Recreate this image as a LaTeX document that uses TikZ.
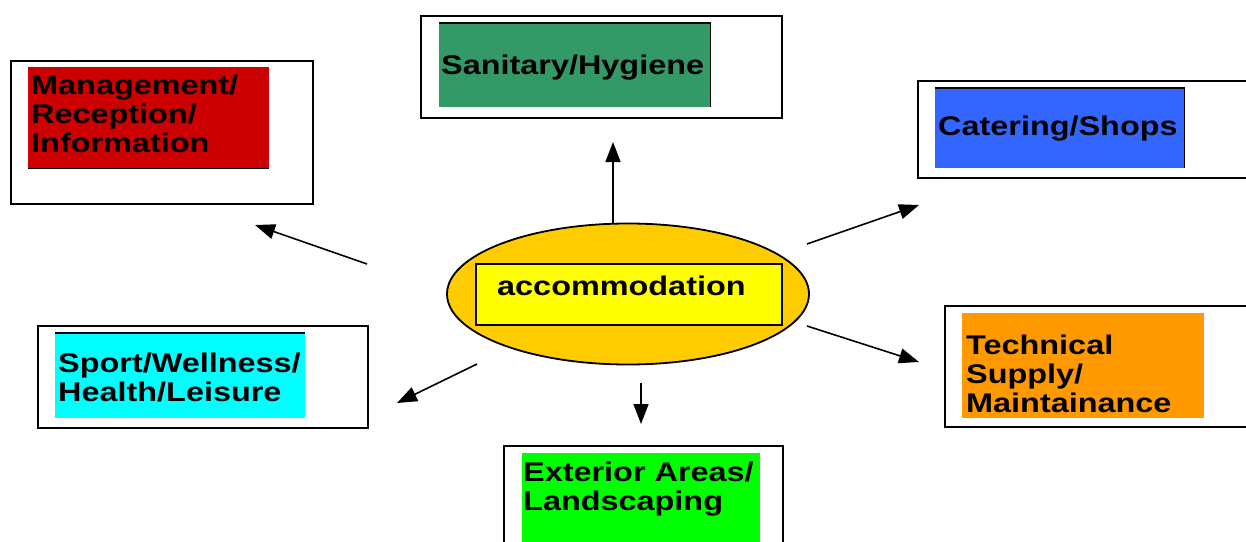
\documentclass[tikz,border=0pt]{standalone}
\usepackage{fontspec}
\setmainfont{Liberation Sans}[FakeStretch=1.2]
\usetikzlibrary{arrows.meta,shapes.geometric}
\definecolor{cmgmt}{HTML}{CC0000}
\definecolor{csan}{HTML}{339966}
\definecolor{ccat}{HTML}{3366FF}
\definecolor{ctech}{HTML}{FF9900}
\definecolor{csport}{HTML}{00FFFF}
\definecolor{cext}{HTML}{00FF00}
\definecolor{cell}{HTML}{FFCC00}
\definecolor{cacc}{HTML}{FFFF00}
\begin{document}
\begin{tikzpicture}[x=1pt,y=-1pt,
  outerbox/.style={draw=black, line width=1.6pt, fill=white, anchor=north west, inner sep=0pt},
  fillbox/.style={anchor=north west, inner sep=0pt, draw=none},
  edge/.style={line width=1.3pt, black},
  lab/.style={anchor=base west, inner sep=0pt, align=left, font=\fontsize{27}{28.7}\selectfont\bfseries},
  conn/.style={line width=1.6pt, -{Triangle[length=20pt,width=15pt]}}]
\useasboundingbox (0,0) rectangle (1246,541);
\clip (0,0) rectangle (1246,541);
\fill[white] (0,0) rectangle (1246,541);

% Management
\node[outerbox, minimum width=302, minimum height=143] (mgmtO) at (10,60) {};
\node[fillbox, fill=cmgmt, minimum width=241, minimum height=101] (mgmtF) at (28,67) {};
\draw[edge] (mgmtF.south west) -- (mgmtF.south east);
\node[lab] (mgmtT) at (31,152) {Management/\\Reception/\\Information};

% Sanitary
\node[outerbox, minimum width=361, minimum height=102] (sanO) at (420,15) {};
\node[fillbox, fill=csan, minimum width=271, minimum height=84] (sanF) at (439,23) {};
\draw[edge] (sanF.north west) -- (sanF.north east) -- (sanF.south east);
\node[lab] (sanT) at (441,74) {Sanitary/Hygiene};

% Catering
\node[outerbox, minimum width=330, minimum height=97] (catO) at (917,80) {};
\node[fillbox, fill=ccat, minimum width=249, minimum height=80] (catF) at (935,88) {};
\draw[edge] (catF.north west) -- (catF.north east) -- (catF.south east);
\node[lab] (catT) at (938,135) {Catering/Shops};

% Technical
\node[outerbox, minimum width=303, minimum height=121] (techO) at (944,305) {};
\node[fillbox, fill=ctech, minimum width=242, minimum height=105] (techF) at (962,313) {};
\node[lab] (techT) at (966,412) {Technical\\Supply/\\Maintainance};

% Sport
\node[outerbox, minimum width=330, minimum height=102] (sportO) at (37,325) {};
\node[fillbox, fill=csport, minimum width=250, minimum height=85] (sportF) at (55,333) {};
\draw[edge] (sportF.north west) -- (sportF.north east);
\node[lab] (sportT) at (58,401) {Sport/Wellness/\\Health/Leisure};

% Exterior
\node[outerbox, minimum width=279, minimum height=120] (extO) at (503,445) {};
\node[fillbox, fill=cext, minimum width=238, minimum height=110] (extF) at (522,453) {};
\node[lab] (extT) at (523,510) {Exterior Areas/\\Landscaping};

% Centre
\node[ellipse, draw=black, line width=1.8pt, fill=cell, minimum width=362, minimum height=141, inner sep=0pt] (ell) at (628,294) {};
\node[draw=black, line width=1.8pt, fill=cacc, minimum width=306, minimum height=61, inner sep=0pt] (acc) at (629,294.5) {};
\node[lab] (accT) at (497,295) {accommodation};

% connector end points
\coordinate (t1) at (367,264); \coordinate (h1) at (255,225);
\coordinate (t2) at (613,223); \coordinate (h2) at (613,142);
\coordinate (t3) at (807,244); \coordinate (h3) at (919,205);
\coordinate (t4) at (807,326); \coordinate (h4) at (919,362);
\coordinate (t5) at (477,364); \coordinate (h5) at (397,403);
\coordinate (t6) at (641,383); \coordinate (h6) at (641,424);
\draw[conn] (t1) -- (h1);
\draw[conn] (t2) -- (h2);
\draw[conn] (t3) -- (h3);
\draw[conn] (t4) -- (h4);
\draw[conn] (t5) -- (h5);
\draw[conn] (t6) -- (h6);
\end{tikzpicture}
\end{document}
